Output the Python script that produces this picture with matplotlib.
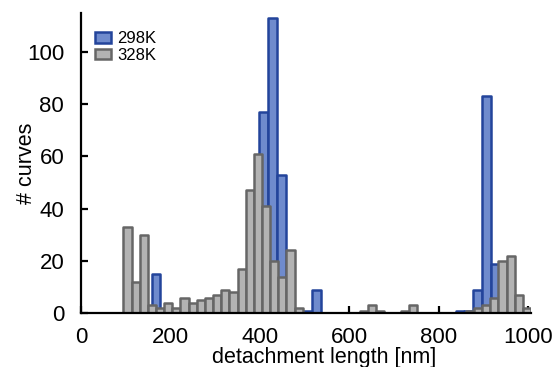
import numpy as np
import matplotlib
matplotlib.use("Agg")
import matplotlib.pyplot as plt

plt.rcParams['font.family'] = ['Liberation Sans', 'DejaVu Sans']

# histogram of detachment lengths at two temperatures
labels = ["298K", "328K"]

# 298K: 20 nm bins starting at 158 nm
bins_298 = np.arange(158, 978, 20)
counts_298 = [15, 0, 0, 0, 0, 0, 0, 0, 0, 0,
              0, 0, 77, 113, 53, 0, 0, 1, 9, 0,
              0, 0, 0, 0, 0, 0, 0, 0, 0, 0,
              0, 0, 0, 0, 1, 1, 9, 83, 19, 2]

# 328K: 50 bins between 95 and 1007 nm
bins_328 = np.linspace(95, 1007, 51)
counts_328 = [33, 12, 30, 3, 2, 4, 2, 6, 4, 5,
              6, 7, 9, 8, 17, 47, 61, 41, 20, 14,
              24, 2, 0, 0, 0, 0, 0, 0, 0, 1,
              3, 1, 0, 0, 1, 3, 0, 0, 0, 0,
              0, 0, 1, 2, 3, 6, 20, 22, 7, 2]

fig = plt.figure(figsize=(5.58, 3.67), dpi=100)
ax = fig.add_axes([0.145, 0.1466, 0.8075, 0.8193])

ax.bar(bins_298[:-1], counts_298, width=np.diff(bins_298), align='edge',
       color='#6f8bcd', edgecolor='#23449b', linewidth=1.8,
       joinstyle='round', label=labels[0], zorder=1)
ax.bar(bins_328[:-1], counts_328, width=np.diff(bins_328), align='edge',
       color='#b3b3b3', edgecolor='#666666', linewidth=1.8,
       joinstyle='round', label=labels[1], zorder=2)

ax.set_xlim(0, 1008)
ax.set_ylim(0, 115)
ax.set_xticks(np.arange(0, 1001, 200))
ax.set_yticks(np.arange(0, 101, 20))

for side in ['top', 'right']:
    ax.spines[side].set_visible(False)
for side in ['left', 'bottom']:
    ax.spines[side].set_linewidth(1.6)
    ax.spines[side].set_zorder(3)

ax.tick_params(direction='in', length=5, width=1.6, labelsize=16)
ax.tick_params(axis='x', pad=10)
ax.tick_params(axis='y', pad=12)
ax.set_xlabel("detachment length [nm]", fontsize=15.5, labelpad=-1, x=0.54)
ax.set_ylabel("# curves", fontsize=15.5, labelpad=-7)

ax.legend(loc='upper left', bbox_to_anchor=(0.012, 0.965), frameon=False,
          fontsize=12, handlelength=1.0, handleheight=0.6,
          handletextpad=0.35, labelspacing=0.1, borderpad=0)

fig.savefig("out.png", dpi=100)
